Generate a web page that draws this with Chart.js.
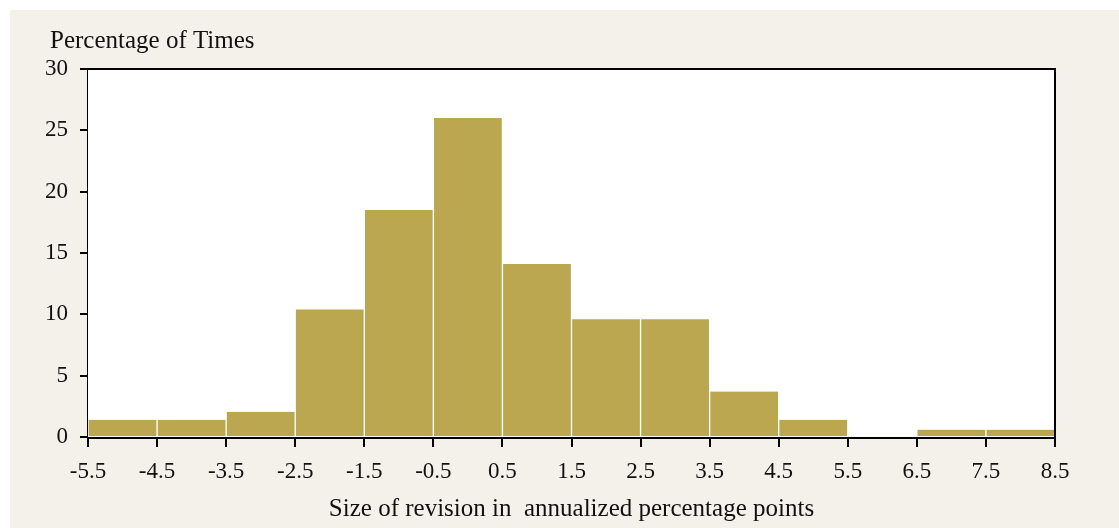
<!DOCTYPE html>
<html>
<head>
<meta charset="utf-8">
<script src="https://cdn.jsdelivr.net/npm/chart.js@4.4.1/dist/chart.umd.min.js"></script>
<style>
  html, body { margin: 0; padding: 0; background: #ffffff; }
  #panel { position: absolute; left: 10px; top: 10px; width: 1109px; height: 518px; background: #f4f1ea; }
</style>
</head>
<body>
<div id="panel"><canvas id="hist" width="1109" height="518"></canvas></div>
<script>
// bin centres (annualized percentage points) and share of revisions in each bin
const binCenters = [-5, -4, -3, -2, -1, 0, 1, 2, 3, 4, 5, 6, 7, 8];
const percentages = [1.4, 1.4, 2.05, 10.4, 18.5, 26, 14.1, 9.6, 9.6, 3.7, 1.4, 0, 0.6, 0.6];
const xTickLabels = ['-5.5', '-4.5', '-3.5', '-2.5', '-1.5', '-0.5', '0.5', '1.5', '2.5', '3.5', '4.5', '5.5', '6.5', '7.5', '8.5'];
const yTickValues = [0, 5, 10, 15, 20, 25, 30];

const FONT = "'Liberation Serif', 'Times New Roman', serif";

// white plot area, frame on top/right, and the y-axis caption
const framePlugin = {
    id: 'frame',
    beforeDatasetsDraw(chart) {
        const a = chart.chartArea, ctx = chart.ctx;
        ctx.save();
        ctx.fillStyle = '#ffffff';
        ctx.fillRect(a.left, a.top, a.right - a.left, a.bottom - a.top);
        ctx.restore();
    },
    afterDraw(chart) {
        const a = chart.chartArea, ctx = chart.ctx;
        ctx.save();
        ctx.strokeStyle = '#000';
        ctx.lineWidth = 2;
        ctx.beginPath();
        ctx.moveTo(a.left, a.top);
        ctx.lineTo(a.right, a.top);
        ctx.lineTo(a.right, a.bottom);
        ctx.stroke();
        ctx.fillStyle = '#111';
        ctx.font = '25px ' + FONT;
        ctx.textBaseline = 'alphabetic';
        ctx.fillText('Percentage of Times', 40, 38);
        ctx.restore();
    }
};

const ctx = document.getElementById('hist').getContext('2d');
new Chart(ctx, {
    type: 'bar',
    data: {
        datasets: [{
            data: binCenters.map(function(c, i) { return {x: c, y: percentages[i]}; }),
            backgroundColor: '#bba74f',
            borderColor: '#ffffff',
            borderWidth: {left: 1, right: 1, top: 0, bottom: 0},
            barPercentage: 1,
            categoryPercentage: 1
        }]
    },
    options: {
        responsive: false,
        animation: false,
        layout: { padding: {top: 59, right: 64, left: 0, bottom: 0} },
        plugins: { legend: {display: false}, tooltip: {enabled: false} },
        scales: {
            x: {
                type: 'linear',
                offset: false,
                min: -5.5,
                max: 8.5,
                afterBuildTicks: function(scale) {
                    scale.ticks = xTickLabels.map(function(t) { return {value: parseFloat(t)}; });
                },
                afterFit: function(scale) { scale.height = 91; },
                border: {display: true, color: '#000', width: 3},
                grid: {drawOnChartArea: false, drawTicks: true, tickLength: 10, color: '#000', lineWidth: 2, offset: false},
                ticks: {
                    autoSkip: false,
                    maxRotation: 0,
                    padding: 11,
                    color: '#111',
                    font: {family: FONT, size: 23},
                    callback: function(v, i) { return xTickLabels[i]; }
                },
                title: {
                    display: true,
                    text: 'Size of revision in  annualized percentage points',
                    color: '#111',
                    font: {family: FONT, size: 25},
                    padding: {top: 0}
                }
            },
            y: {
                min: 0,
                max: 30,
                afterBuildTicks: function(scale) {
                    scale.ticks = yTickValues.map(function(v) { return {value: v}; });
                },
                afterFit: function(scale) { scale.width = 78; },
                border: {display: true, color: '#000', width: 2},
                grid: {drawOnChartArea: false, drawTicks: true, tickLength: 8, color: '#000', lineWidth: 2},
                ticks: {
                    padding: 12,
                    color: '#111',
                    font: {family: FONT, size: 23}
                }
            }
        }
    },
    plugins: [framePlugin]
});
</script>
</body>
</html>
